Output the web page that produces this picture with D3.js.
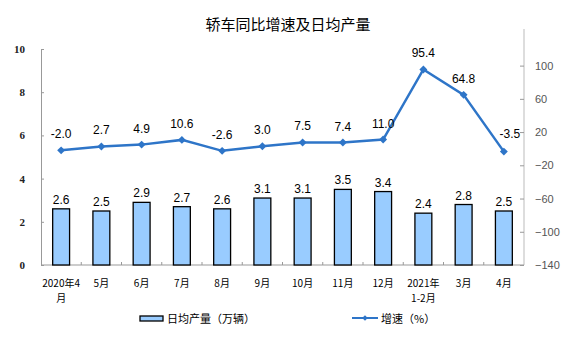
<!DOCTYPE html>
<html>
<head>
<meta charset="utf-8">
<script src="https://cdn.jsdelivr.net/npm/d3@7"></script>
<style>
  body { margin: 0; background: #fff; }
  svg { display: block; }
</style>
</head>
<body>
<svg width="576" height="358"></svg>
<script>
// 月份
const categories = ["2020年4月", "5月", "6月", "7月", "8月", "9月", "10月", "11月", "12月", "2021年1-2月", "3月", "4月"];
// 分两行显示的标签
const labelLines = [["2020年4", "月"], ["5月"], ["6月"], ["7月"], ["8月"], ["9月"], ["10月"], ["11月"], ["12月"], ["2021年", "1-2月"], ["3月"], ["4月"]];
// 日均产量（万辆）
const output = [2.6, 2.5, 2.9, 2.7, 2.6, 3.1, 3.1, 3.5, 3.4, 2.4, 2.8, 2.5];
// 增速（%）
const growth = [-2.0, 2.7, 4.9, 10.6, -2.6, 3.0, 7.5, 7.4, 11.0, 95.4, 64.8, -3.5];
const leftTicks = [0, 2, 4, 6, 8, 10];
const rightTicks = [-140, -100, -60, -20, 20, 60, 100];

const svg = d3.select("svg");
const plotLeft = 41, plotRight = 524, plotTop = 49, plotBottom = 265;
const fontSans = "Arial, 'Liberation Sans', sans-serif";
const fontCJK = "'Noto Sans CJK SC', sans-serif";

const x = d3.scaleBand().domain(categories).range([plotLeft, plotRight]).paddingInner(0.58).paddingOuter(0.29);
const yL = d3.scaleLinear().domain([0, 10]).range([plotBottom, plotTop]);
const yR = d3.scaleLinear().domain([-140, 120]).range([plotBottom, plotTop]);

// 标题
svg.append("text")
    .attr("x", 288).attr("y", 30)
    .attr("text-anchor", "middle")
    .style("font-family", fontCJK).style("font-size", "15px")
    .text("轿车同比增速及日均产量");

// 左轴
const axL = svg.append("g").attr("transform", `translate(${plotLeft},0)`)
    .call(d3.axisRight(yL).tickValues(leftTicks).tickSize(3).tickFormat(d3.format("d")));
axL.select(".domain").attr("stroke", "#999");
axL.selectAll(".tick line").attr("stroke", "#999");
axL.selectAll(".tick text")
    .attr("x", -16).attr("text-anchor", "end")
    .style("font-family", "'Liberation Serif', 'DejaVu Serif', serif")
    .style("font-size", "11px").style("font-weight", "bold").attr("fill", "#222");

// 右轴
const axR = svg.append("g").attr("transform", `translate(${plotRight},0)`)
    .call(d3.axisLeft(yR).tickValues(rightTicks).tickSize(4).tickFormat(d => d < 0 ? "−" + Math.abs(d) : d));
axR.select(".domain").attr("stroke", "#bbb").attr("d", `M0,${plotTop - 20}V${plotBottom}`);
axR.selectAll(".tick line").attr("stroke", "#999");
axR.selectAll(".tick text")
    .attr("x", 11).attr("text-anchor", "start")
    .style("font-family", fontSans).style("font-size", "11px").attr("fill", "#555");

// 底部轴线和刻度
svg.append("line")
    .attr("x1", plotLeft).attr("x2", plotRight).attr("y1", plotBottom).attr("y2", plotBottom)
    .attr("stroke", "#999");
svg.selectAll(".xtick").data(categories.slice(1))
    .enter().append("line")
    .attr("x1", d => x(d) - x.step() * x.paddingInner() / 2)
    .attr("x2", d => x(d) - x.step() * x.paddingInner() / 2)
    .attr("y1", plotBottom).attr("y2", plotBottom - 3)
    .attr("stroke", "#999");

// X轴标签
const xl = svg.selectAll(".xlabel").data(categories)
    .enter().append("text")
    .attr("text-anchor", "middle")
    .style("font-family", fontCJK).style("font-size", "10px");
xl.each(function(d, i) {
    const t = d3.select(this);
    labelLines[i].forEach((s, j) => {
        t.append("tspan")
            .attr("x", x(d) + x.bandwidth() / 2)
            .attr("y", 287 + j * 15)
            .text(s);
    });
});

// 柱子
svg.selectAll(".bar").data(output)
    .enter().append("rect")
    .attr("x", (d, i) => x(categories[i]))
    .attr("y", d => yL(d))
    .attr("width", x.bandwidth())
    .attr("height", d => yL(0) - yL(d))
    .attr("fill", "#99ccff")
    .attr("stroke", "#000").attr("stroke-width", 1.3);

svg.selectAll(".barlabel").data(output)
    .enter().append("text")
    .attr("x", (d, i) => x(categories[i]) + x.bandwidth() / 2)
    .attr("y", d => yL(d) - 5)
    .attr("text-anchor", "middle")
    .style("font-family", fontSans).style("font-size", "12px")
    .text(d => d.toFixed(1));

// 增速折线
const cx = i => x(categories[i]) + x.bandwidth() / 2;
const line = d3.line()
    .x((d, i) => cx(i))
    .y(d => yR(d));
svg.append("path")
    .attr("d", line(growth))
    .attr("fill", "none")
    .attr("stroke", "#2e75c8").attr("stroke-width", 2.5);

svg.selectAll(".dot").data(growth)
    .enter().append("path")
    .attr("d", d3.symbol(d3.symbolDiamond2, 40))
    .attr("transform", (d, i) => `translate(${cx(i)},${yR(d)})`)
    .attr("fill", "#2e75c8");

svg.selectAll(".linelabel").data(growth)
    .enter().append("text")
    .attr("x", (d, i) => cx(i) + (i === growth.length - 1 ? 6 : 0))
    .attr("y", (d, i) => yR(d) - (i === growth.length - 1 ? 14 : 12))
    .attr("text-anchor", "middle")
    .style("font-family", fontSans).style("font-size", "12px")
    .text(d => d.toFixed(1));

// 图例
svg.append("rect")
    .attr("x", 140).attr("y", 316).attr("width", 23).attr("height", 5)
    .attr("fill", "#99ccff").attr("stroke", "#000").attr("stroke-width", 1.3);
svg.append("text")
    .attr("x", 167).attr("y", 323)
    .style("font-family", fontCJK).style("font-size", "11px")
    .text("日均产量（万辆）");
svg.append("line")
    .attr("x1", 352).attr("x2", 378).attr("y1", 318).attr("y2", 318)
    .attr("stroke", "#2e75c8").attr("stroke-width", 2);
svg.append("path")
    .attr("d", d3.symbol(d3.symbolDiamond2, 20))
    .attr("transform", "translate(365,318)")
    .attr("fill", "#2e75c8");
svg.append("text")
    .attr("x", 381).attr("y", 323)
    .style("font-family", fontCJK).style("font-size", "11px")
    .text("增速（%）");
</script>
</body>
</html>
